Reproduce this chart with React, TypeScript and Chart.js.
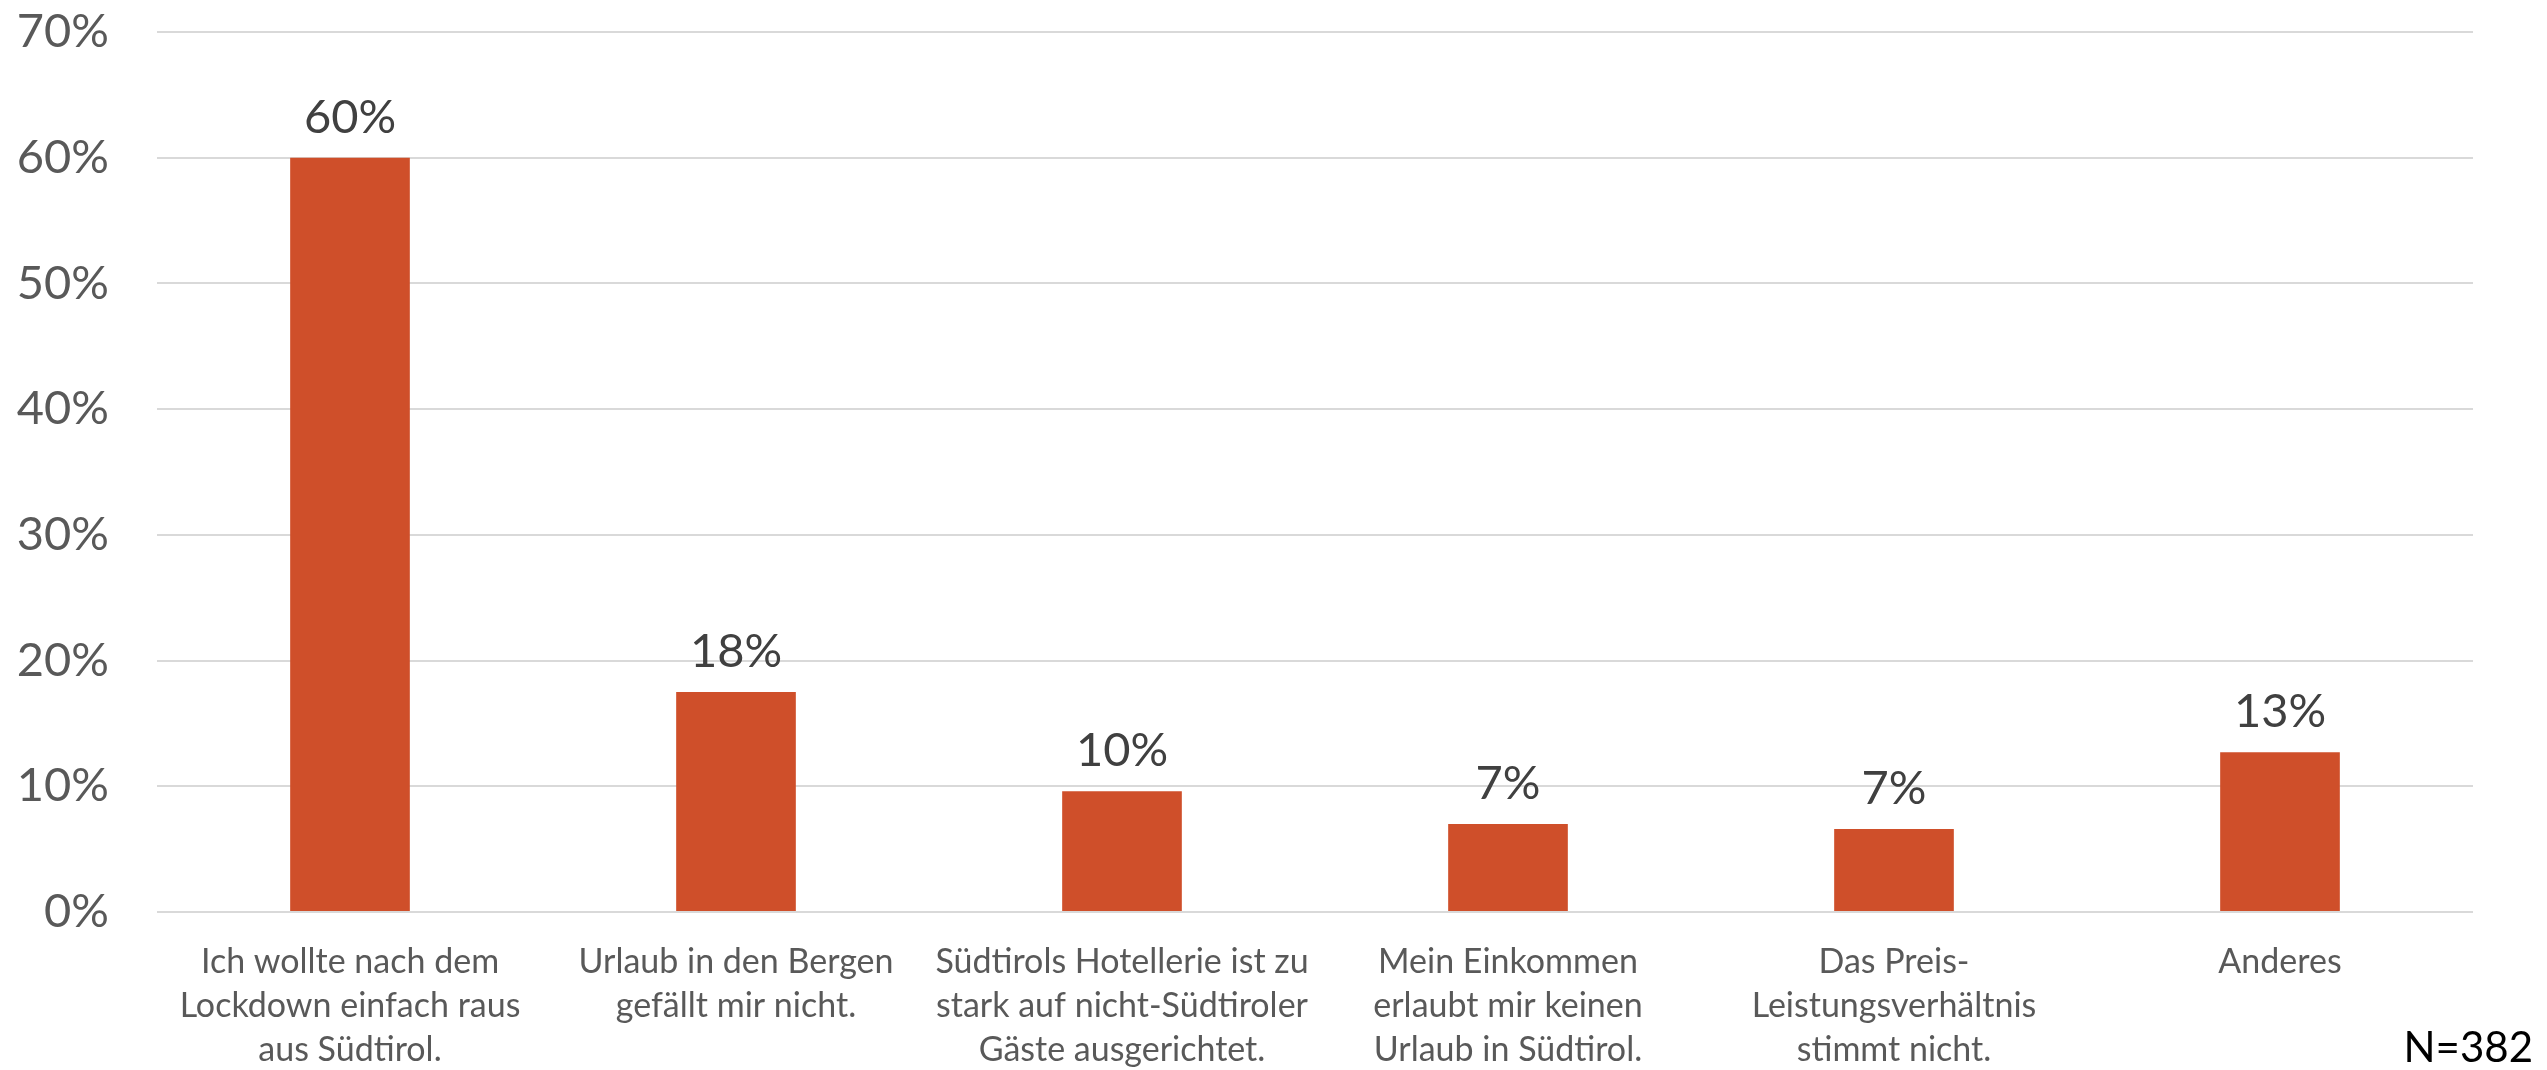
import React, { useEffect, useRef } from "react";
import { Chart, registerables } from "chart.js";

Chart.register(...registerables);

const categories: string[][] = [
  ["Ich wollte nach dem", "Lockdown einfach raus", "aus Südtirol."],
  ["Urlaub in den Bergen", "gefällt mir nicht."],
  ["Südtirols Hotellerie ist zu", "stark auf nicht-Südtiroler", "Gäste ausgerichtet."],
  ["Mein Einkommen", "erlaubt mir keinen", "Urlaub in Südtirol."],
  ["Das Preis-", "Leistungsverhältnis", "stimmt nicht."],
  ["Anderes"],
];
const values: number[] = [60.0, 17.5, 9.6, 7.0, 6.6, 12.7];
const yTicks: number[] = [0, 10, 20, 30, 40, 50, 60, 70];
const sampleNote = "N=382";

const FONT = "Lato, 'Open Sans', sans-serif";
const BAR_COLOR = "#CF4F2A";

const labelPlugin = {
  id: "valueLabels",
  afterDatasetsDraw(chart: any) {
    const { ctx } = chart;
    const meta = chart.getDatasetMeta(0);
    ctx.save();
    ctx.font = `47px ${FONT}`;
    ctx.fillStyle = "#404040";
    ctx.textAlign = "center";
    ctx.textBaseline = "alphabetic";
    meta.data.forEach((bar: any, i: number) => {
      ctx.fillText(`${Math.round(values[i])}%`, bar.x, bar.y - 25);
    });
    ctx.restore();
  },
  afterDraw(chart: any) {
    const { ctx } = chart;
    ctx.save();
    ctx.font = `42px ${FONT}`;
    ctx.fillStyle = "#000000";
    ctx.textAlign = "right";
    ctx.textBaseline = "alphabetic";
    ctx.fillText(sampleNote, chart.width - 14, chart.height - 8);
    ctx.restore();
  },
};

export default function App() {
  const ref = useRef<HTMLCanvasElement | null>(null);
  useEffect(() => {
    if (!ref.current) return;
    const chart = new Chart(ref.current, {
      type: "bar",
      data: {
        labels: categories,
        datasets: [
          {
            data: values,
            backgroundColor: BAR_COLOR,
            barPercentage: 0.31,
            categoryPercentage: 1.0,
          },
        ],
      },
      plugins: [labelPlugin],
      options: {
        animation: false,
        responsive: false,
        maintainAspectRatio: false,
        layout: { padding: { left: 0, right: 74, top: 32, bottom: 0 } },
        plugins: {
          legend: { display: false },
          tooltip: { enabled: false },
        },
        scales: {
          x: {
            grid: { display: false, drawTicks: false },
            border: { display: false },
            ticks: {
              color: "#595959",
              font: { family: FONT, size: 34, lineHeight: 1.3 },
              padding: 28,
              maxRotation: 0,
              autoSkip: false,
            },
            afterFit: (scale: any) => {
              scale.height = 158;
              scale.paddingLeft = 0;
              scale.paddingRight = 0;
            },
          },
          y: {
            min: 0,
            max: 70,
            afterBuildTicks: (scale: any) => {
              scale.ticks = yTicks.map((v) => ({ value: v }));
            },
            grid: { color: "#D9D9D9", lineWidth: 2, drawTicks: false },
            border: { display: false },
            ticks: {
              color: "#595959",
              font: { family: FONT, size: 47 },
              padding: 48,
              callback: (v: any) => `${v}%`,
            },
            afterFit: (scale: any) => {
              scale.width = 157;
              scale.paddingTop = 0;
              scale.paddingBottom = 0;
            },
          },
        },
      },
    });
    return () => chart.destroy();
  }, []);
  return (
    <div style={{ position: "absolute", left: 0, top: 0, width: 2547, height: 1070, background: "#fff" }}>
      <canvas ref={ref} width={2547} height={1070} style={{ width: 2547, height: 1070 }} />
    </div>
  );
}
